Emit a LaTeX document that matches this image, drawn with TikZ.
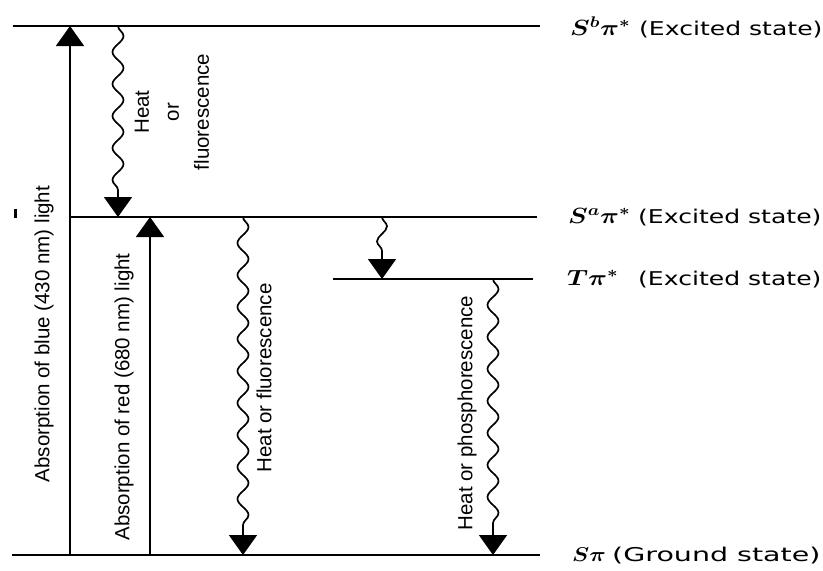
\RequirePackage{fix-cm}
\documentclass[tikz,border=0pt]{standalone}
\usepackage{amsmath}
\usepackage{fontspec}
\setmainfont{Liberation Sans}
\newfontfamily\widefont{DejaVu Sans}
\usetikzlibrary{arrows.meta,decorations.pathmorphing}
% math part: #1 font size, #2 horizontal stretch, #3 formula
\newcommand{\mlab}[3]{{\fontsize{#1}{26}\selectfont\scalebox{#2}[1]{$\boldsymbol{#3}$}}}
% #1 math part, #2 width of math box, #3 text, #4 horizontal stretch of text
\newcommand{\stlab}[4]{\makebox[#2pt][l]{#1}\scalebox{#4}[1]{\widefont #3}}
\begin{document}
\begin{tikzpicture}[x=1pt,y=-1pt,
  level/.style={line width=2.6pt},
  tipA/.style={-{Triangle[width=28pt,length=20pt]}},
  shaft/.style={line width=1.8pt, tipA},
  wavy/.style={line width=1.7pt, tipA, decorate,
    decoration={snake, segment length=32pt, amplitude=5.5pt, post length=22pt}},
  vlabel/.style={rotate=90, inner sep=0pt, font=\fontsize{20.5}{30}\selectfont},
  slabel/.style={anchor=west, inner sep=0pt, font=\fontsize{19}{22}\selectfont}]
\fill[white] (0,0) rectangle (823,571);
\useasboundingbox (0,0) rectangle (823,571);
% level lines
\coordinate (topL) at (13,26);  \coordinate (topR) at (540,26);
\coordinate (midL) at (70,217); \coordinate (midR) at (537,217);
\coordinate (tL) at (333,279);  \coordinate (tR) at (533,279);
\coordinate (botL) at (12,555); \coordinate (botR) at (540,555);
\draw[level] (topL) -- (topR);
\draw[level] (midL) -- (midR);
\draw[level] (tL) -- (tR);
\draw[level] (botL) -- (botR);
% small tick
\coordinate (tk1) at (15,209); \coordinate (tk2) at (15,218);
\draw[line width=3pt] (tk1) -- (tk2);
% transition end points
\coordinate (b0) at (70,555);  \coordinate (b1) at (70,26);
\coordinate (r0) at (150,555); \coordinate (r1) at (150,217);
\coordinate (h0) at (118,26);  \coordinate (h1) at (118,217);
\coordinate (f0) at (243,217); \coordinate (f1) at (243,555);
\coordinate (s0) at (382,217); \coordinate (s1) at (382,279);
\coordinate (p0) at (493,279); \coordinate (p1) at (493,555);
\draw[shaft] (b0) -- (b1);
\draw[shaft] (r0) -- (r1);
\draw[wavy] (h0) -- (h1);
\draw[wavy] (f0) -- (f1);
\draw[line width=1.7pt, tipA, decorate,
  decoration={snake, segment length=30pt, amplitude=5pt, post length=22pt}] (s0) -- (s1);
\draw[wavy] (p0) -- (p1);
% vertical labels
\node[vlabel] (lblue) at (44,334) {Absorption of blue (430 nm) light};
\node[vlabel] (lred) at (124,397) {Absorption of red (680 nm) light};
\node[vlabel] (lhf) at (264,378) {Heat or fluorescence};
\node[vlabel] (lhp) at (467,413) {Heat or phosphorescence};
\node[vlabel, align=center] (lhf2) at (172,112) {Heat\\or\\fluorescence};
% state labels
\node[slabel] (sb) at (570,27) {\stlab{\mlab{22}{1.2}{S^b\pi^*}}{69}{(Excited state)}{1.32}};
\node[slabel] (sa) at (568,217) {\stlab{\mlab{22}{1.2}{S^a\pi^*}}{70}{(Excited state)}{1.32}};
\node[slabel] (st) at (567,279) {\stlab{\mlab{22}{1.2}{T\pi^*}}{71}{(Excited state)}{1.32}};
\node[slabel] (sg) at (572,556) {\stlab{\mlab{20}{1.15}{S\pi}}{40}{(Ground state)}{1.5}};
\end{tikzpicture}
\end{document}
